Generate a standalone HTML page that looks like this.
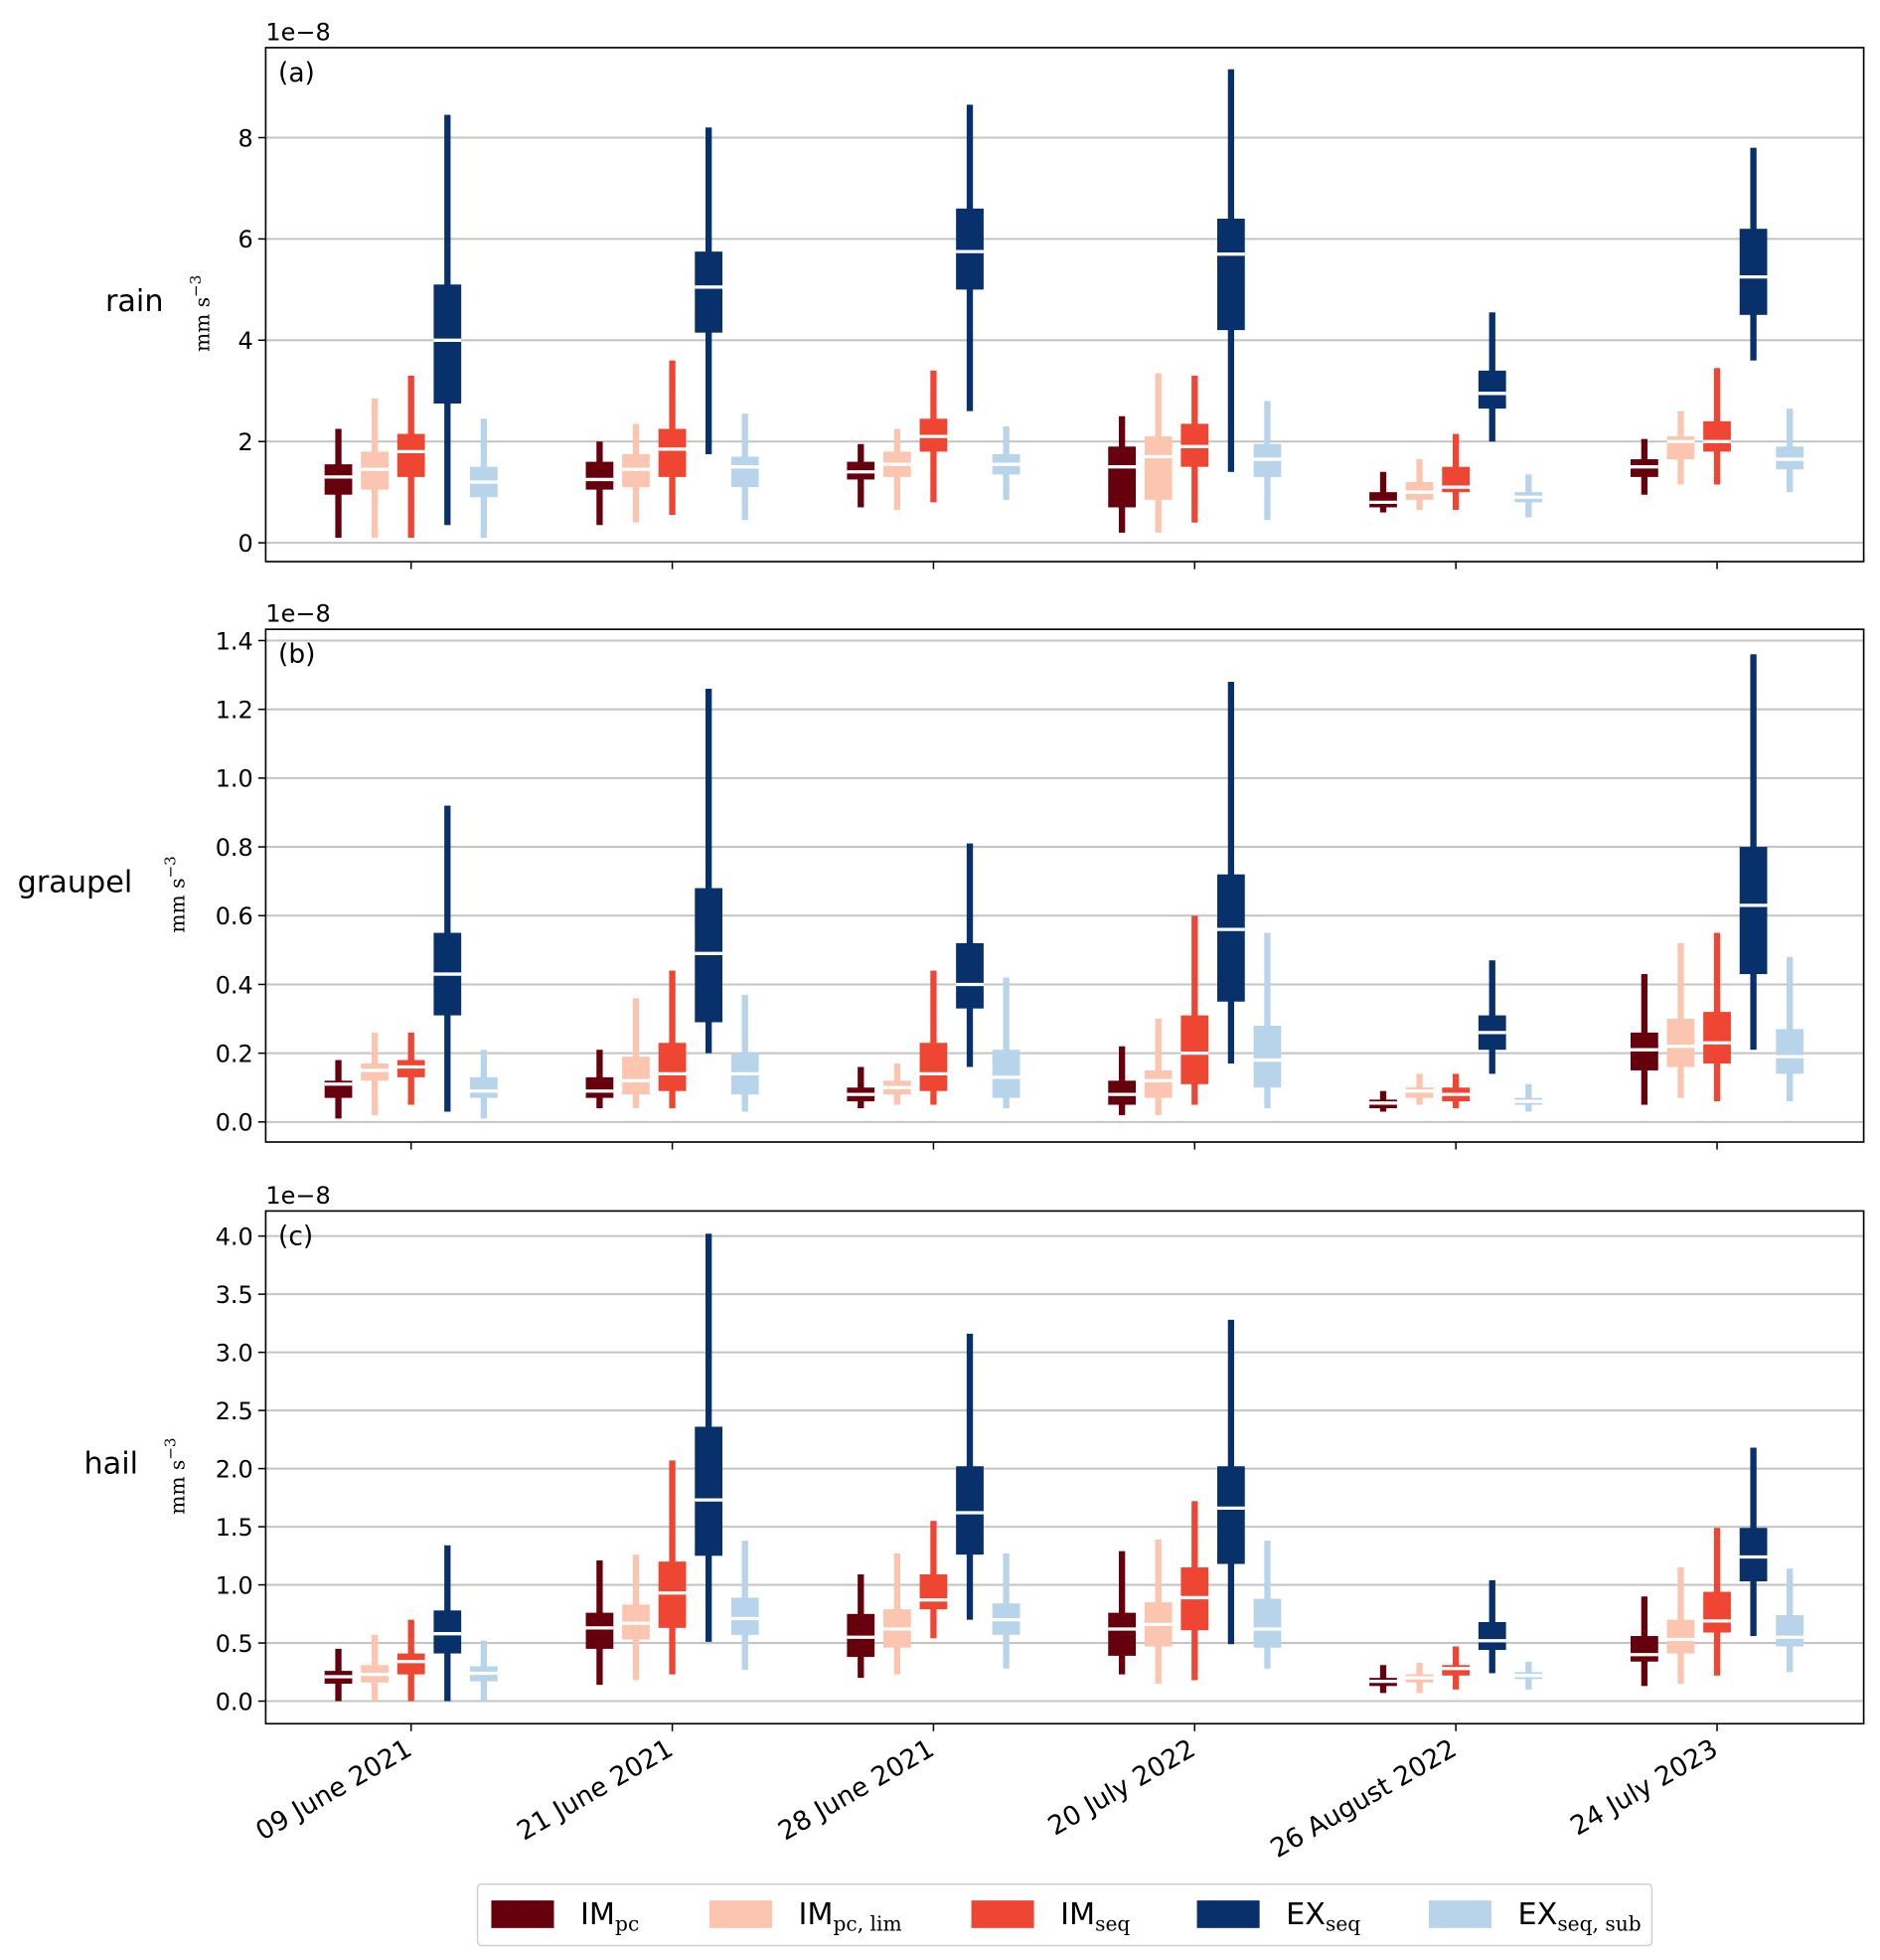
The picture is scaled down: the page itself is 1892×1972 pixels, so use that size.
<!DOCTYPE html>
<html><head><meta charset="utf-8"><style>
html,body{margin:0;padding:0;background:#fff}
svg{display:block}
text{font-family:"DejaVu Sans","Liberation Sans",sans-serif;fill:#000}
</style></head><body>
<svg id="chart" width="1892" height="1972" viewBox="0 0 1500 1563.5" preserveAspectRatio="none" xmlns="http://www.w3.org/2000/svg"></svg>
<script>
const categories = ["09 June 2021","21 June 2021","28 June 2021","20 July 2022","26 August 2022","24 July 2023"];
const seriesNames = ["IMpc","IMpc,lim","IMseq","EXseq","EXseq,sub"];
const seriesColors = ["#67000d","#fcc5b0","#ef4533","#08306b","#b8d4ea"];
// [low whisker, q1, median, q3, high whisker] per category per series (x1e-8)
const rainIMpc = [[0.1,0.95,1.3,1.55,2.25],[0.35,1.05,1.25,1.6,2.0],[0.7,1.25,1.4,1.6,1.95],[0.2,0.7,1.5,1.9,2.5],[0.6,0.7,0.8,1.0,1.4],[0.95,1.3,1.5,1.65,2.05]];
const rainIMpcLim = [[0.1,1.05,1.45,1.8,2.85],[0.4,1.1,1.45,1.75,2.35],[0.65,1.3,1.55,1.8,2.25],[0.2,0.85,1.7,2.1,3.35],[0.65,0.85,1.0,1.2,1.65],[1.15,1.65,2.0,2.1,2.6]];
const rainIMseq = [[0.1,1.3,1.8,2.15,3.3],[0.55,1.3,1.85,2.25,3.6],[0.8,1.8,2.1,2.45,3.4],[0.4,1.5,1.9,2.35,3.3],[0.65,1.0,1.1,1.5,2.15],[1.15,1.8,2.0,2.4,3.45]];
const rainEXseq = [[0.35,2.75,4.0,5.1,8.45],[1.75,4.15,5.05,5.75,8.2],[2.6,5.0,5.75,6.6,8.65],[1.4,4.2,5.7,6.4,9.35],[2.0,2.65,2.95,3.4,4.55],[3.6,4.5,5.25,6.2,7.8]];
const rainEXsub = [[0.1,0.9,1.2,1.5,2.45],[0.45,1.1,1.5,1.7,2.55],[0.85,1.35,1.55,1.75,2.3],[0.45,1.3,1.65,1.95,2.8],[0.5,0.8,0.9,1.0,1.35],[1.0,1.45,1.65,1.9,2.65]];
const graupelIMpc = [[0.01,0.07,0.11,0.12,0.18],[0.04,0.07,0.09,0.13,0.21],[0.04,0.06,0.08,0.1,0.16],[0.02,0.05,0.08,0.12,0.22],[0.03,0.04,0.055,0.065,0.09],[0.05,0.15,0.21,0.26,0.43]];
const graupelIMpcLim = [[0.02,0.12,0.15,0.17,0.26],[0.04,0.08,0.12,0.19,0.36],[0.05,0.08,0.1,0.12,0.17],[0.02,0.07,0.12,0.15,0.3],[0.05,0.07,0.09,0.1,0.14],[0.07,0.16,0.22,0.3,0.52]];
const graupelIMseq = [[0.05,0.13,0.16,0.18,0.26],[0.04,0.09,0.14,0.23,0.44],[0.05,0.09,0.14,0.23,0.44],[0.05,0.11,0.2,0.31,0.6],[0.04,0.06,0.08,0.1,0.14],[0.06,0.17,0.23,0.32,0.55]];
const graupelEXseq = [[0.03,0.31,0.43,0.55,0.92],[0.2,0.29,0.49,0.68,1.26],[0.16,0.33,0.4,0.52,0.81],[0.17,0.35,0.56,0.72,1.28],[0.14,0.21,0.26,0.31,0.47],[0.21,0.43,0.63,0.8,1.36]];
const graupelEXsub = [[0.01,0.07,0.09,0.13,0.21],[0.03,0.08,0.14,0.2,0.37],[0.04,0.07,0.13,0.21,0.42],[0.04,0.1,0.18,0.28,0.55],[0.03,0.05,0.06,0.07,0.11],[0.06,0.14,0.19,0.27,0.48]];
const hailIMpc = [[0.0,0.15,0.21,0.26,0.45],[0.14,0.45,0.63,0.76,1.21],[0.2,0.38,0.55,0.75,1.09],[0.23,0.39,0.62,0.76,1.29],[0.07,0.13,0.17,0.2,0.31],[0.13,0.34,0.4,0.56,0.9]];
const hailIMpcLim = [[0.0,0.16,0.23,0.31,0.57],[0.18,0.53,0.67,0.83,1.26],[0.23,0.46,0.62,0.79,1.27],[0.15,0.47,0.66,0.85,1.39],[0.07,0.16,0.2,0.23,0.33],[0.15,0.41,0.53,0.7,1.15]];
const hailIMseq = [[0.0,0.23,0.34,0.41,0.7],[0.23,0.63,0.93,1.2,2.07],[0.54,0.79,0.87,1.09,1.55],[0.18,0.61,0.89,1.15,1.72],[0.1,0.22,0.28,0.31,0.47],[0.22,0.59,0.69,0.94,1.49]];
const hailEXseq = [[0.0,0.41,0.58,0.78,1.34],[0.51,1.25,1.73,2.36,4.02],[0.7,1.26,1.62,2.02,3.16],[0.49,1.18,1.66,2.02,3.28],[0.24,0.44,0.52,0.68,1.04],[0.56,1.03,1.24,1.49,2.18]];
const hailEXsub = [[0.0,0.17,0.24,0.3,0.52],[0.27,0.57,0.71,0.89,1.38],[0.28,0.57,0.7,0.84,1.27],[0.28,0.46,0.62,0.88,1.38],[0.1,0.19,0.22,0.25,0.34],[0.25,0.47,0.55,0.74,1.14]];
const rainTicks = [0,2,4,6,8];
const graupelTicks = [0,0.2,0.4,0.6,0.8,1.0,1.2,1.4];
const hailTicks = [0,0.5,1.0,1.5,2.0,2.5,3.0,3.5,4.0];

const NS="http://www.w3.org/2000/svg";
const svg=document.getElementById('chart');
function mk(tag,attrs,parent){const e=document.createElementNS(NS,tag);for(const k in attrs)e.setAttribute(k,attrs[k]);(parent||svg).appendChild(e);return e;}

const X0=212,X1=1487,groupStart=328,groupStep=208.4,offsets=[-58,-29,0,29,58];
function xScale(ci,si){return groupStart+ci*groupStep+offsets[si];}

const panels=[
 {key:"rain",label:"rain",letter:"(a)",top:38,bottom:448,y0:433,ypu:40.4,ticks:rainTicks,fmt:v=>String(v),data:[rainIMpc,rainIMpcLim,rainIMseq,rainEXseq,rainEXsub],lx:84,ux:167},
 {key:"graupel",label:"graupel",letter:"(b)",top:502,bottom:911,y0:895,ypu:274.3,ticks:graupelTicks,fmt:v=>v.toFixed(1),data:[graupelIMpc,graupelIMpcLim,graupelIMseq,graupelEXseq,graupelEXsub],lx:14,ux:147},
 {key:"hail",label:"hail",letter:"(c)",top:966,bottom:1375,y0:1357,ypu:92.75,ticks:hailTicks,fmt:v=>v.toFixed(1),data:[hailIMpc,hailIMpcLim,hailIMseq,hailEXseq,hailEXsub],lx:67,ux:147}
];

panels.forEach(p=>{
 const g=mk('g',{});
 
 
 const yS=v=>p.y0-v*p.ypu;
 p.ticks.forEach(t=>{
  const y=yS(t);
  const gl=mk('line',{x1:X0,x2:X1,y1:y,y2:y,stroke:'#c4c4c4','stroke-width':1.6},g);
  
  
  mk('line',{x1:X0-6,x2:X0,y1:y,y2:y,stroke:'#000','stroke-width':1.2},g);
  const tl=mk('text',{x:X0-10,y:y+7,'text-anchor':'end','font-size':19},g);
  tl.textContent=p.fmt(t);
  
  
 });
 p.data.forEach((ser,si)=>{
  ser.forEach((d,ci)=>{
   const x=xScale(ci,si);
   const bg=mk('g',{},g);
   
   
   mk('rect',{x:x-2.5,y:yS(d[4]),width:5,height:yS(d[0])-yS(d[4]),fill:seriesColors[si]},bg);
   mk('rect',{x:x-11,y:yS(d[3]),width:22,height:yS(d[1])-yS(d[3]),fill:seriesColors[si]},bg);
   mk('line',{x1:x-11,x2:x+11,y1:yS(d[2]),y2:yS(d[2]),stroke:'#fff','stroke-width':2.6},bg);
  });
 });
 const fr=mk('rect',{x:X0,y:p.top,width:X1-X0,height:p.bottom-p.top,fill:'none',stroke:'#000','stroke-width':1.3},g);
 
 
 categories.forEach((c,ci)=>{
  const x=groupStart+ci*groupStep;
  mk('line',{x1:x,x2:x,y1:p.bottom,y2:p.bottom+6,stroke:'#000','stroke-width':1.2},g);
 });
 const ex=mk('text',{x:X0,y:p.top-6,'font-size':19},g);ex.textContent='1e\u22128';
 
 
 const lt=mk('text',{x:X0+10,y:p.top+27,'font-size':21},g);lt.textContent=p.letter;
 
 
 const rl=mk('text',{x:p.lx,y:(p.top+p.bottom)/2+5,'font-size':24},g);rl.textContent=p.label;
 
 
 const cy=(p.top+p.bottom)/2+7;
 const ul=mk('text',{x:0,y:0,'font-size':16,'text-anchor':'middle',transform:`translate(${p.ux},${cy}) rotate(-90)`,style:'font-family:"DejaVu Serif","Liberation Serif",serif'},g);
 ul.innerHTML='mm s<tspan dy="-7" font-size="12">\u22123</tspan>';
 
 
});

categories.forEach((c,ci)=>{
 const x=groupStart+ci*groupStep;
 const t=mk('text',{x:0,y:0,'font-size':21,'text-anchor':'end',transform:`translate(${x+2},${1399}) rotate(-30)`});
 t.textContent=c;
 
 
});

const lg=mk('g',{});


mk('rect',{x:381,y:1503,width:937,height:49,rx:3,fill:'#fff',stroke:'#d0d0d0','stroke-width':1.2},lg);
const legX=[392,566,775,955,1140];
const legMain=["IM","IM","IM","EX","EX"];
const legSub=["pc","pc, lim","seq","seq","seq, sub"];
seriesNames.forEach((n,i)=>{
 const e=mk('g',{},lg);
 
 
 mk('rect',{x:legX[i],y:1516,width:50,height:22,fill:seriesColors[i]},e);
 const t=mk('text',{x:legX[i]+71,y:1535,'font-size':24},e);
 t.innerHTML=legMain[i]+'<tspan dy="5" font-size="16" style="font-family:\'DejaVu Serif\',\'Liberation Serif\',serif">'+legSub[i]+'</tspan>';
});
</script>
</body></html>
